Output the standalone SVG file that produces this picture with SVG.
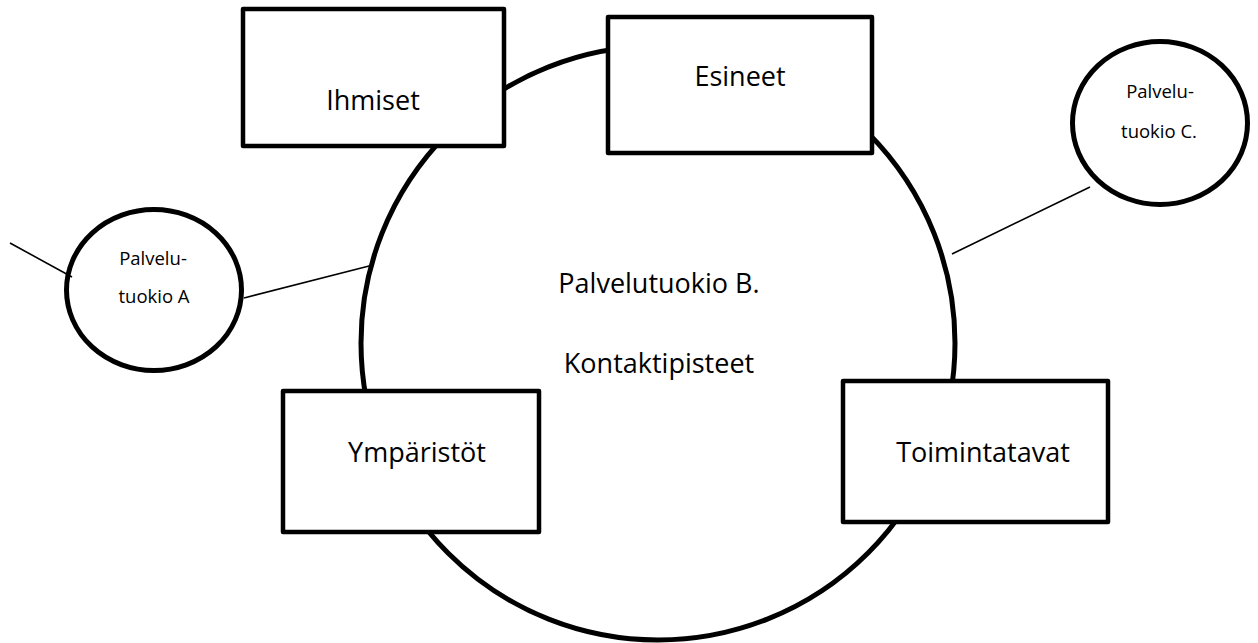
<svg xmlns="http://www.w3.org/2000/svg" width="1258" height="643" viewBox="0 0 1258 643">
  <style>
    .ring { fill: none; stroke: #000; stroke-width: 5; }
    .box { fill: #fff; stroke: #000; stroke-width: 4.5; stroke-linejoin: round; }
    .bubble { fill: #fff; stroke: #000; stroke-width: 5; }
    .link { stroke: #000; stroke-width: 1.6; fill: none; }
    .big { font-family: "Open Sans", "Liberation Sans", sans-serif; font-size: 27px; fill: #000; text-anchor: middle; }
    .small { font-family: "Open Sans", "Liberation Sans", sans-serif; font-size: 18.5px; fill: #000; text-anchor: middle; }
  </style>
  <rect width="1258" height="643" fill="#fff"/>

  <!-- central service moment with its touchpoints -->
  <g id="palvelutuokio-b">
    <circle class="ring" cx="658" cy="343" r="297"/>
    <text class="big" x="659" y="293">Palvelutuokio B.</text>
    <text class="big" x="659" y="373">Kontaktipisteet</text>
  </g>

  <g id="ihmiset">
    <rect class="box" x="243" y="9" width="261" height="137"/>
    <text class="big" x="373" y="110">Ihmiset</text>
  </g>

  <g id="esineet">
    <rect class="box" x="608" y="17" width="264" height="136"/>
    <text class="big" x="740" y="86">Esineet</text>
  </g>

  <g id="ymparistot">
    <rect class="box" x="283" y="391" width="256" height="141"/>
    <text class="big" x="417" y="462">Ympäristöt</text>
  </g>

  <g id="toimintatavat">
    <rect class="box" x="843" y="381" width="265" height="141"/>
    <text class="big" x="983" y="462">Toimintatavat</text>
  </g>

  <g id="palvelutuokio-a">
    <ellipse class="bubble" cx="154" cy="290" rx="87.5" ry="80.5"/>
    <text class="small" x="153" y="265">Palvelu-</text>
    <text class="small" x="154" y="303">tuokio A</text>
  </g>

  <g id="palvelutuokio-c">
    <ellipse class="bubble" cx="1160" cy="123" rx="87.5" ry="81.5"/>
    <text class="small" x="1160" y="98">Palvelu-</text>
    <text class="small" x="1159" y="138">tuokio C.</text>
  </g>

  <!-- links between service moments -->
  <g id="connectors">
    <line class="link" x1="10" y1="243" x2="72" y2="277"/>
    <line class="link" x1="244" y1="298" x2="373" y2="265"/>
    <line class="link" x1="952" y1="254" x2="1090" y2="187"/>
  </g>
</svg>
